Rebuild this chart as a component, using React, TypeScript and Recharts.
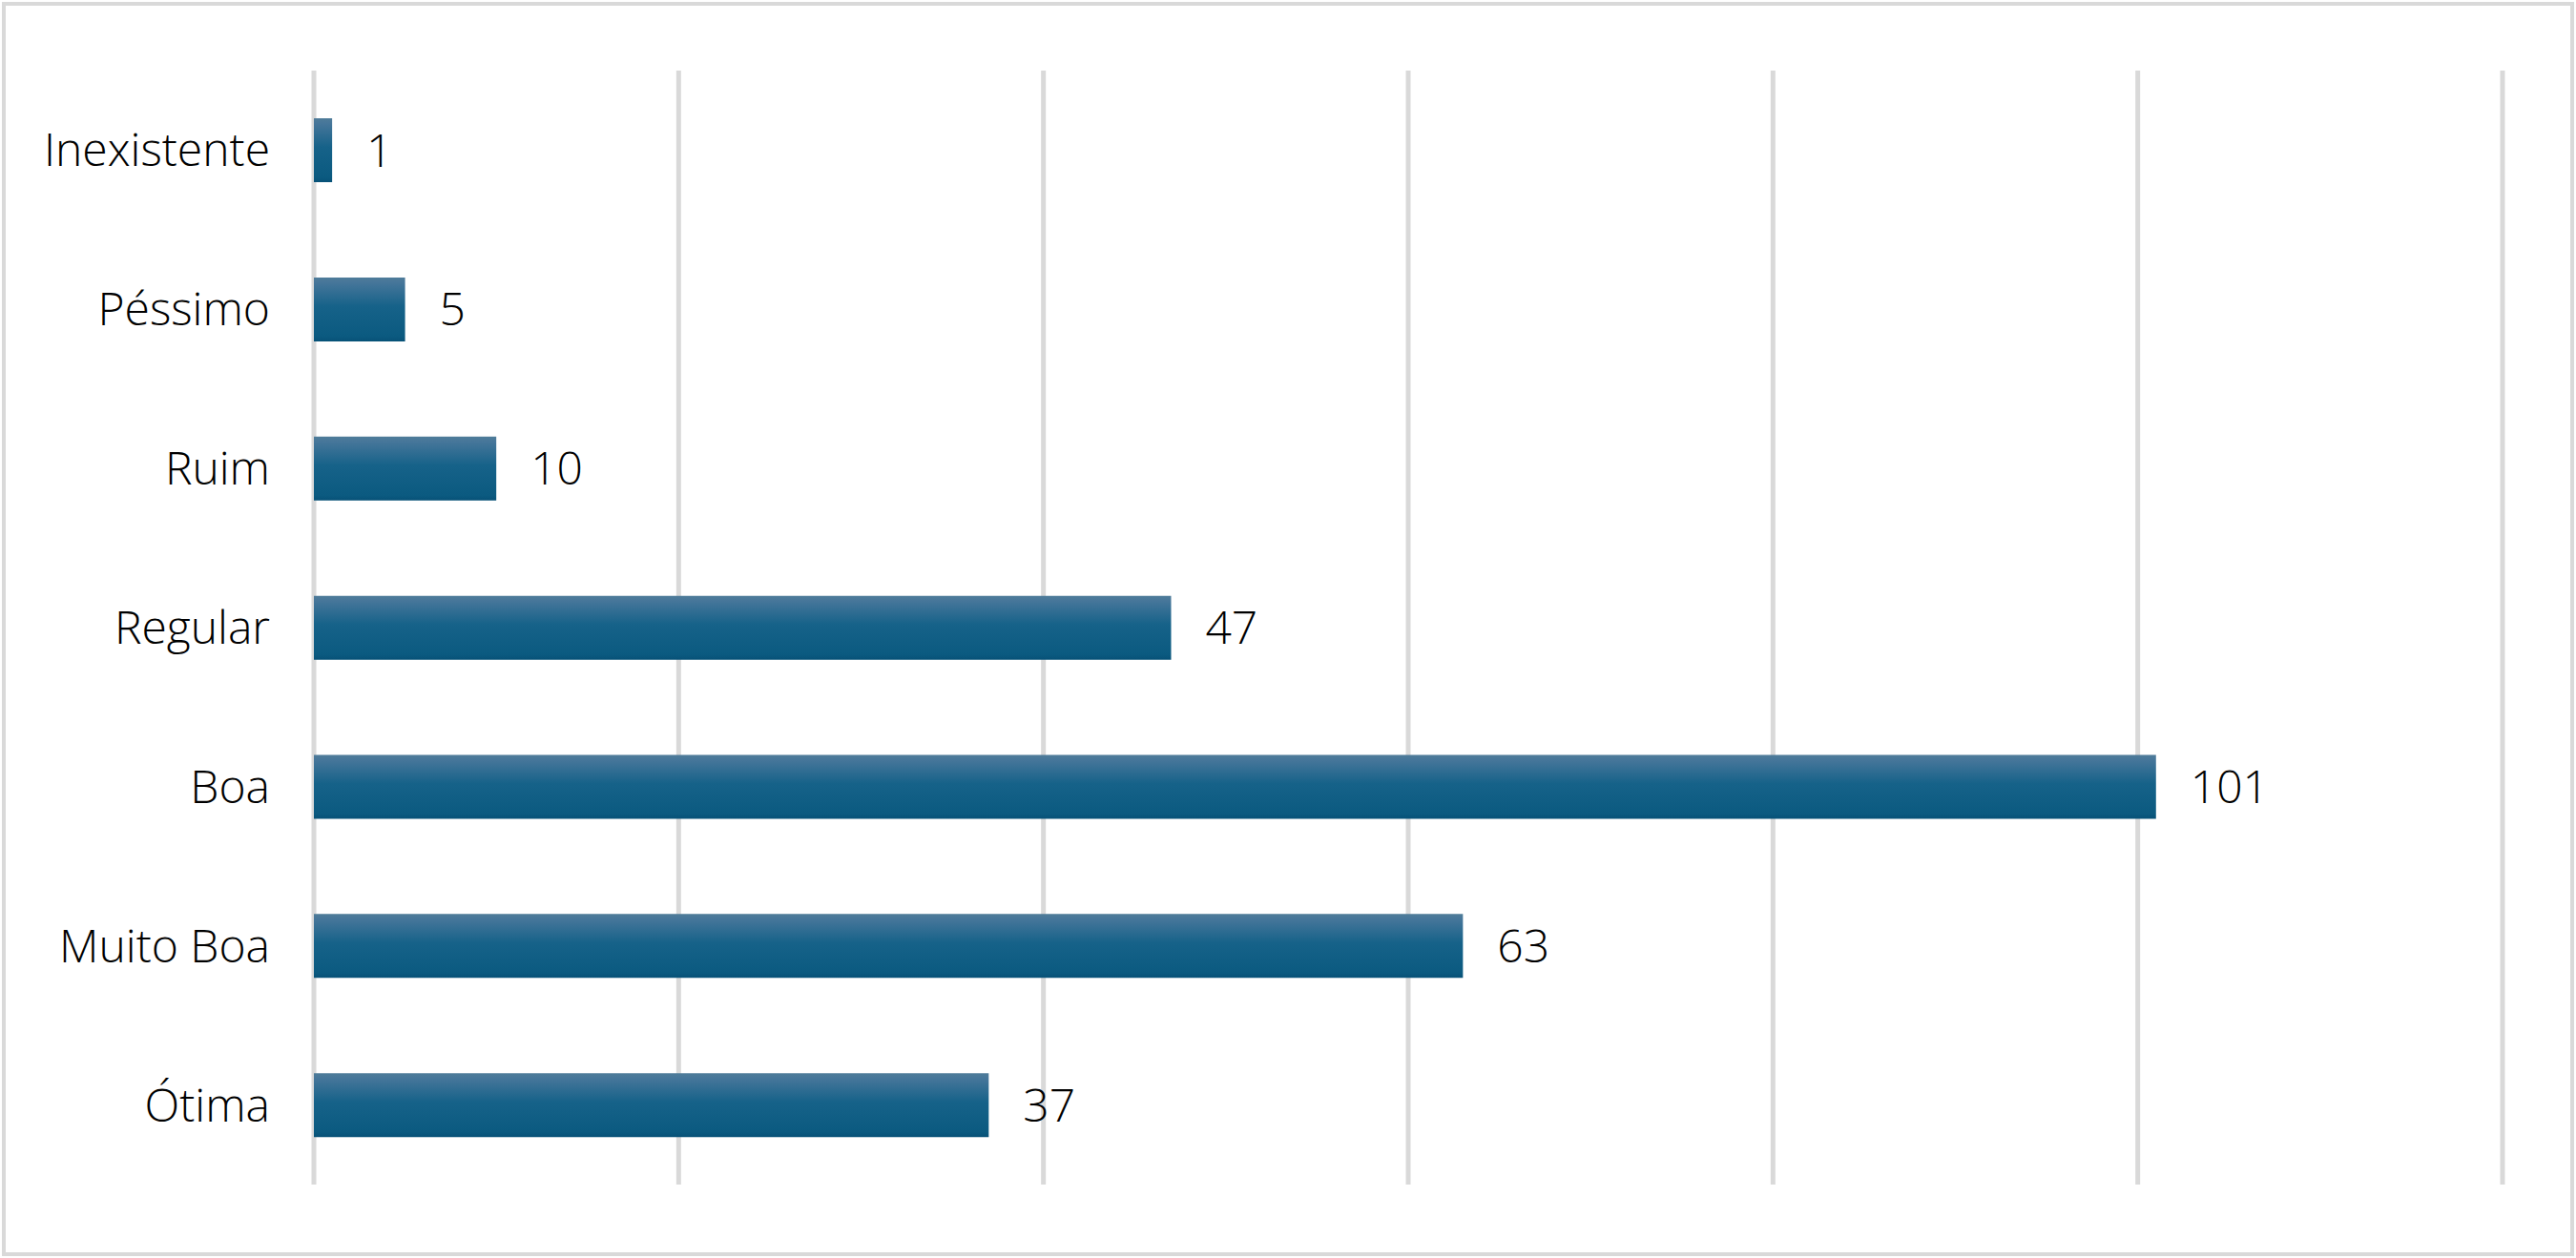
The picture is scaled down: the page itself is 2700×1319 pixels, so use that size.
import React from 'react'
import { BarChart, Bar, XAxis, YAxis, CartesianGrid, LabelList } from 'recharts'

const categories = ['Inexistente', 'Péssimo', 'Ruim', 'Regular', 'Boa', 'Muito Boa', 'Ótima']
const counts = [1, 5, 10, 47, 101, 63, 37]
const xTicks = [0, 20, 40, 60, 80, 100, 120]

const data = categories.map((name, i) => ({ name, value: counts[i] }))

const FONT = '"Open Sans", "Noto Sans", sans-serif'

export default function App() {
  return (
    <div style={{ position: 'absolute', left: 0, top: 0, width: 2700, height: 1319, background: '#fff' }}>
      <BarChart
        width={2700}
        height={1319}
        data={data}
        layout="vertical"
        barCategoryGap="30%"
        margin={{ top: 74, right: 77, bottom: 77, left: 0 }}
      >
        <defs>
          <linearGradient id="barFill" x1="0" y1="0" x2="0" y2="1">
            <stop offset="0%" stopColor="#4f7c99" />
            <stop offset="8%" stopColor="#46769a" />
            <stop offset="45%" stopColor="#166289" />
            <stop offset="92%" stopColor="#0b5a80" />
            <stop offset="100%" stopColor="#075177" />
          </linearGradient>
        </defs>
        <CartesianGrid horizontal={false} stroke="#d9d9d9" strokeWidth={5} />
        <XAxis type="number" domain={[0, 120]} ticks={xTicks} hide />
        <YAxis
          type="category"
          dataKey="name"
          width={329}
          axisLine={false}
          tickLine={false}
          tickSize={0}
          tickMargin={46}
          tick={{ fill: '#000', fontSize: 48, fontFamily: FONT, fontWeight: 300 }}
        />
        <Bar dataKey="value" fill="url(#barFill)" isAnimationActive={false}>
          <LabelList
            dataKey="value"
            position="right"
            offset={36}
            fill="#000"
            fontSize={48}
            fontFamily={FONT}
            fontWeight={300}
          />
        </Bar>
      </BarChart>
      <div
        style={{
          position: 'absolute',
          left: 2,
          top: 2,
          width: 2696,
          height: 1315,
          boxSizing: 'border-box',
          border: '4px solid #d9d9d9',
          pointerEvents: 'none',
        }}
      />
    </div>
  )
}
